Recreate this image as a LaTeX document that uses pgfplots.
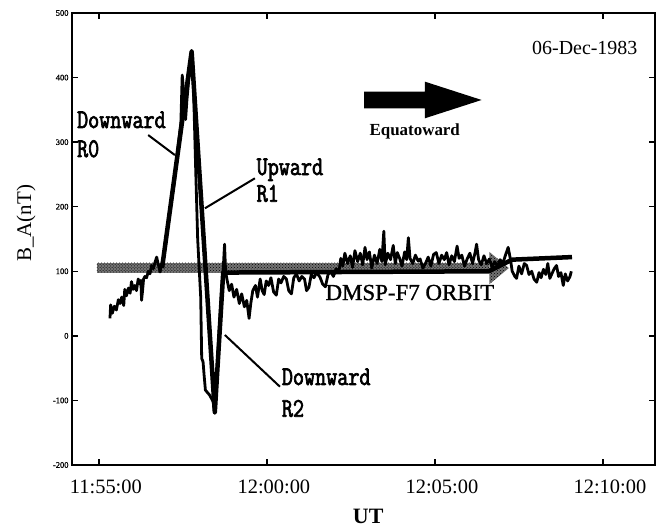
\documentclass[border=0pt]{standalone}
\usepackage{fontspec}
\setmainfont{Liberation Serif}
\newfontfamily\labfont[FakeStretch=0.8,FakeBold=2.5]{Latin Modern Mono}
\newfontfamily\serifbold[FakeBold=1.2]{Liberation Serif}
\usepackage{pgfplots}
\pgfplotsset{compat=1.18}
\usetikzlibrary{patterns}

\begin{document}
\begin{tikzpicture}
\useasboundingbox (0,0) rectangle (671bp,529bp);
\begin{axis}[
  at={(72bp,64bp)}, anchor=south west,
  width=583bp, height=452bp, scale only axis,
  xmin=-0.8, xmax=16.55, ymin=-200, ymax=500,
  xtick={0,5,10,15}, xticklabels={11:55:00,12:00:00,12:05:00,12:10:00},
  ytick={-200,-100,0,100,200,300,400,500},
  yticklabels={-200,-100,0,100,200,300,400,500},
  axis line style={line width=1.3bp},
  tick style={line width=1.3bp, black},
  major tick length=6bp,
  xticklabel style={font=\fontsize{20.5}{20.5}\selectfont, yshift=-11bp, xshift=7bp},
  yticklabel style={font=\serifbold\fontsize{8.5}{8.5}\selectfont},
  clip=false,
]
% orbit band
\fill[black!55] (axis cs:-0.06,98) rectangle (axis cs:11.62,113);
\fill[pattern=crosshatch dots, pattern color=black] (axis cs:-0.06,98) rectangle (axis cs:11.62,113);
\fill[black!55] (axis cs:11.62,80) -- (axis cs:12.2,105) -- (axis cs:11.62,130) -- cycle;
\fill[pattern=crosshatch dots, pattern color=black] (axis cs:11.62,80) -- (axis cs:12.2,105) -- (axis cs:11.62,130) -- cycle;

% measured trace
\addplot[black, line width=2.8bp, line join=round] coordinates {
(0.33,27) (0.35,48) (0.40,35) (0.46,46) (0.52,40) (0.58,56) (0.63,50) (0.68,60) (0.74,47) (0.77,72)
(0.82,62) (0.88,74) (0.93,66) (0.97,84) (1.02,72) (1.07,78) (1.12,70) (1.17,88) (1.22,80) (1.25,86)
(1.27,55) (1.30,70) (1.33,88) (1.37,92) (1.42,90) (1.47,100) (1.52,96) (1.57,109) (1.62,104) (1.67,114)
(1.72,122) (1.77,110) (1.82,99) (1.87,112) (1.92,118) (1.96,139) (2.05,170) (2.15,205) (2.25,240) (2.35,290)
(2.44,330) (2.48,404) (2.53,375) (2.58,335) (2.62,365) (2.68,400) (2.72,420) (2.76,442) (2.80,415) (2.88,260)
(2.94,150) (2.99,100) (3.03,60) (3.06,-35) (3.10,-40) (3.13,-60) (3.17,-84) (3.30,-92) (3.40,-102) (3.45,-120)
(3.52,-50) (3.58,10) (3.65,70) (3.70,103) (3.74,142) (3.77,100) (3.81,88) (3.88,70) (3.95,80) (4.02,60)
(4.10,72) (4.18,50) (4.25,65) (4.33,45) (4.40,55) (4.47,27) (4.52,50) (4.58,70) (4.66,78) (4.72,60)
(4.80,88) (4.86,70) (4.92,64) (4.98,85) (5.05,78) (5.12,90) (5.20,68) (5.28,63) (5.35,88) (5.42,82)
(5.50,92) (5.58,88) (5.65,70) (5.73,65) (5.80,90) (5.88,96) (5.96,85) (6.04,92) (6.12,88) (6.18,70)
(6.25,75) (6.32,95) (6.40,90) (6.48,98) (6.58,91) (6.66,80) (6.74,76) (6.82,95) (6.90,100) (6.98,92)
(7.06,104) (7.14,98) (7.20,120) (7.26,108) (7.32,128) (7.40,112) (7.48,124) (7.55,106) (7.62,132) (7.70,115)
(7.78,128) (7.85,110) (7.92,137) (7.98,118) (8.05,130) (8.12,105) (8.20,125) (8.28,112) (8.36,134) (8.42,115)
(8.48,162) (8.52,110) (8.60,128) (8.68,118) (8.76,140) (8.82,112) (8.88,129) (8.95,120) (9.02,108) (9.10,130)
(9.16,118) (9.21,152) (9.26,120) (9.34,112) (9.42,125) (9.50,116) (9.56,119) (9.64,105) (9.72,112) (9.80,122)
(9.88,108) (9.96,126) (10.04,129) (10.12,112) (10.20,125) (10.28,118) (10.35,129) (10.42,110) (10.50,124) (10.58,115)
(10.66,139) (10.72,120) (10.80,125) (10.88,108) (10.96,119) (11.04,128) (11.12,112) (11.20,130) (11.24,142) (11.30,118)
(11.38,110) (11.46,124) (11.54,112) (11.62,119) (11.70,106) (11.78,115) (11.86,108) (11.94,118) (12.02,112) (12.10,125)
(12.18,137) (12.25,118) (12.30,100) (12.38,92) (12.43,89) (12.50,108) (12.58,96) (12.66,112) (12.73,109) (12.80,95)
(12.88,100) (12.95,88) (13.03,83) (13.10,98) (13.16,90) (13.23,103) (13.30,95) (13.36,112) (13.42,89) (13.48,96)
(13.55,104) (13.62,109) (13.68,92) (13.75,98) (13.82,78) (13.88,96) (13.95,85) (14.02,92) (14.06,100)
};
% model (thick)
\addplot[black, line width=4.5bp, line join=round] coordinates {
(1.88,105) (2.76,440) (3.45,-118) (3.70,98) (11.6,100) (12.3,118) (14.08,122)
};

% leaders
\draw[line width=2bp] (axis cs:1.467,311) -- (axis cs:2.262,280);
\draw[line width=2bp] (axis cs:4.643,244) -- (axis cs:3.155,197.5);
\draw[line width=2bp] (axis cs:5.387,-78.7) -- (axis cs:3.75,1.3);

% labels
\node[anchor=base west, inner sep=0, font=\labfont\fontsize{27}{27}\selectfont] at (axis cs:-0.655,321.9) {Downward};
\node[anchor=base west, inner sep=0, font=\labfont\fontsize{27}{27}\selectfont] at (axis cs:-0.655,277) {R0};
\node[anchor=base west, inner sep=0, font=\labfont\fontsize{27}{27}\selectfont] at (axis cs:4.69,249.1) {Upward};
\node[anchor=base west, inner sep=0, font=\labfont\fontsize{27}{27}\selectfont] at (axis cs:4.69,207.8) {R1};
\node[anchor=base west, inner sep=0, font=\labfont\fontsize{27}{27}\selectfont] at (axis cs:5.44,-76.1) {Downward};
\node[anchor=base west, inner sep=0, font=\labfont\fontsize{27}{27}\selectfont] at (axis cs:5.44,-125.2) {R2};

\node[anchor=base, inner sep=0, font=\fontsize{20}{20}\selectfont] at (axis cs:14.46,435) {06-Dec-1983};
\node[anchor=center, inner sep=0, font=\bfseries\fontsize{17}{17}\selectfont] at (axis cs:9.40,317) {Equatoward};
\node[anchor=base, inner sep=0, font=\serifbold\fontsize{23}{23}\selectfont] at (axis cs:9.256,55.5) {DMSP-F7 ORBIT};

% big arrow
\fill (axis cs:7.89,352.4) -- (axis cs:9.70,352.4) -- (axis cs:9.70,336.9) -- (axis cs:11.39,365.3)
   -- (axis cs:9.70,393.7) -- (axis cs:9.70,378.2) -- (axis cs:7.89,378.2) -- cycle;

% axis labels
\node[xshift=-46bp, rotate=90, font=\fontsize{21}{21}\selectfont] at (rel axis cs:0,0.535) {B\_A(nT)};
\node[yshift=-51bp, font=\bfseries\fontsize{22}{22}\selectfont] at (rel axis cs:0.508,0) {UT};
\end{axis}
\end{tikzpicture}
\end{document}
